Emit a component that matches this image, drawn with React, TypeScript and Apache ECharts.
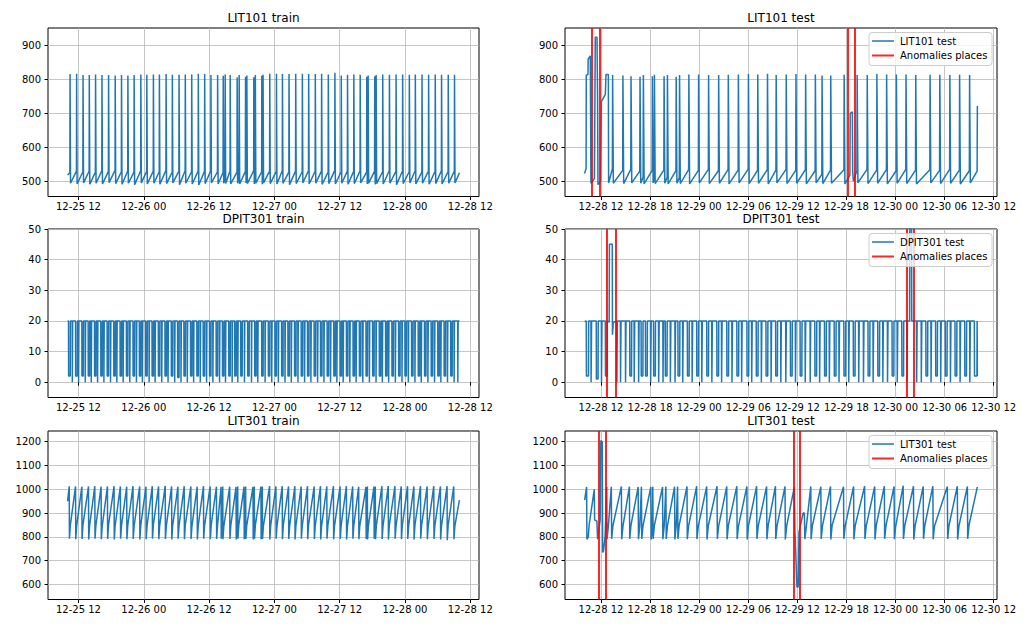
import React, { useEffect, useRef } from "react";
import * as echarts from "echarts";

// ---------- axis ticks (x values are hours since 12-25 00:00) ----------
const TRAIN_X_TICKS = [12, 24, 36, 48, 60, 72, 84];
const TEST_X_TICKS = [84, 90, 96, 102, 108, 114, 120, 126, 132];
const LIT101_Y_TICKS = [500, 600, 700, 800, 900];
const DPIT301_Y_TICKS = [0, 10, 20, 30, 40, 50];
const LIT301_Y_TICKS = [600, 700, 800, 900, 1000, 1100, 1200];

const TITLES = ["LIT101 train", "LIT101 test", "DPIT301 train", "DPIT301 test", "LIT301 train", "LIT301 test"];
const TEST_NAMES = ["LIT101 test", "DPIT301 test", "LIT301 test"];

// ---------- anomaly places (hours) ----------
const LIT101_ANOMALIES = [82.9, 83.79, 114.18, 115.07];
const DPIT301_ANOMALIES = [84.74, 85.76, 121.42, 122.28];
const LIT301_ANOMALIES = [83.75, 84.53, 107.55, 108.33];

// ---------- LIT101 train: [spike time, level before, peak, level after] ----------
const LIT101_TRAIN_START = [10.0, 518];
const LIT101_TRAIN_END = [82.0, 525];
const LIT101_TRAIN = [
  [10.42, 526, 816, 494], [11.63, 530, 817, 492], [12.81, 528, 813, 495], [13.96, 530, 813, 491],
  [15.11, 527, 815, 494], [16.29, 531, 813, 492], [17.5, 529, 813, 496], [18.72, 532, 812, 493],
  [19.88, 528, 813, 491], [21.05, 530, 812, 494], [22.2, 527, 813, 490], [23.43, 531, 815, 495],
  [24.53, 529, 814, 492], [25.74, 530, 815, 494], [26.84, 528, 815, 491], [28.07, 532, 816, 493],
  [29.22, 527, 814, 495], [30.45, 530, 814, 490], [31.6, 531, 815, 494], [32.78, 528, 815, 492],
  [33.99, 530, 817, 489], [35.16, 529, 816, 493], [36.31, 531, 813, 495], [37.54, 528, 813, 492],
  [38.57, 526, 811, 494], [38.93, 512, 815, 493], [39.85, 530, 813, 492], [41.13, 527, 807, 494],
  [41.5, 510, 813, 492], [42.67, 529, 808, 495], [42.91, 508, 812, 493], [44.19, 531, 807, 492],
  [44.47, 510, 813, 494], [45.66, 528, 811, 491], [45.89, 508, 814, 495], [47.12, 530, 817, 493],
  [48.35, 529, 817, 492], [49.45, 531, 816, 494], [50.66, 527, 816, 490], [51.89, 530, 817, 493],
  [53.11, 528, 817, 495], [54.27, 531, 816, 492], [55.49, 529, 816, 494], [56.65, 530, 817, 491],
  [57.88, 527, 815, 493], [59.09, 532, 820, 492], [60.26, 528, 812, 494], [61.41, 530, 814, 491],
  [62.57, 529, 815, 493], [63.74, 531, 814, 495], [64.95, 527, 808, 492], [65.2, 508, 812, 494],
  [66.41, 530, 810, 491], [66.67, 509, 813, 493], [67.88, 528, 815, 492], [69.11, 531, 814, 494],
  [70.33, 529, 815, 490], [71.54, 530, 815, 493], [72.77, 528, 814, 495], [73.87, 531, 815, 492],
  [75.1, 527, 815, 494], [76.31, 530, 814, 491], [77.53, 529, 815, 493], [78.69, 531, 814, 492],
  [79.92, 528, 814, 494], [81.07, 530, 814, 495],
];

// ---------- LIT101 test ----------
const LIT101_TEST_POINTS = [
  [82.0, 523], [82.18, 538], [82.2, 813], [82.41, 815], [82.43, 860], [82.69, 870], [82.77, 494],
  [83.2, 508], [83.3, 925], [83.51, 925], [83.58, 750], [83.63, 490], [83.95, 500], [84.05, 735],
  [84.53, 756], [84.61, 815], [84.9, 815], [84.93, 495],
  [114.42, 518], [114.46, 700], [114.72, 705], [114.76, 530], [114.85, 500],
  [129.97, 530], [130.0, 722],
];
const LIT101_TEST = [
  [85.39, 536, 813, 494], [86.65, 532, 812, 493], [87.64, 535, 810, 495], [88.74, 530, 808, 494],
  [89.15, 512, 813, 492], [90.25, 532, 810, 495], [90.5, 508, 814, 493], [91.68, 533, 810, 494],
  [92.09, 512, 813, 492], [93.16, 531, 808, 494], [93.57, 510, 813, 493], [94.71, 534, 815, 492],
  [95.9, 532, 815, 495], [97.12, 535, 813, 493], [98.35, 531, 813, 494], [99.53, 534, 814, 492],
  [100.76, 533, 815, 495], [101.99, 536, 816, 493], [103.13, 532, 815, 494], [104.32, 534, 817, 492],
  [105.38, 533, 813, 495], [106.61, 535, 815, 493], [107.8, 532, 816, 494], [108.98, 534, 815, 492],
  [110.17, 531, 815, 495], [110.99, 520, 812, 493], [112.05, 533, 812, 494], [113.69, 534, 814, 492],
  [115.28, 532, 813, 495], [116.51, 535, 813, 493], [117.69, 533, 816, 494], [118.88, 534, 815, 492],
  [120.07, 531, 815, 494], [121.25, 535, 815, 493], [122.44, 533, 813, 492], [124.19, 534, 814, 495],
  [125.38, 532, 814, 493], [126.61, 535, 813, 494], [127.8, 533, 814, 492], [129.02, 531, 813, 495],
];

// ---------- DPIT301 train: [dip time, dip level, dip duration] ----------
const DPIT301_TRAIN_START = [10.0, 20];
const DPIT301_TRAIN_END = [82.0, 20];
const DPIT301_TRAIN = [
  [10.17, 2, 0.3], [10.85, 0, 0.04], [11.46, 2, 0.3], [12.0, 0, 0.04], [12.62, 2, 0.25], [13.23, 0, 0.04],
  [13.78, 2, 0.25], [14.33, 0, 0.04], [14.94, 2, 0.25], [15.49, 0, 0.04], [16.1, 2, 0.25], [16.65, 0, 0.04],
  [17.26, 2, 0.25], [17.87, 0, 0.04], [18.48, 2, 0.25], [19.03, 0, 0.04], [19.64, 2, 0.25], [20.19, 0, 0.04],
  [20.8, 2, 0.25], [21.41, 0, 0.04], [22.02, 2, 0.25], [22.63, 0, 0.04], [23.18, 2, 0.25], [23.73, 0, 0.04],
  [24.35, 2, 0.25], [24.96, 0, 0.04], [25.51, 2, 0.25], [26.06, 0, 0.04], [26.67, 2, 0.25], [27.28, 0, 0.04],
  [27.89, 2, 0.25], [28.44, 0, 0.04], [29.05, 2, 0.25], [29.66, 0, 0.04], [30.21, 1.5, 0.25], [30.82, 0, 0.04],
  [31.37, 2, 0.25], [31.98, 0, 0.04], [32.59, 2, 0.25], [33.14, 0, 0.04], [33.75, 2, 0.25], [34.36, 0, 0.04],
  [34.91, 2, 0.25], [35.52, 0, 0.04], [36.07, 2, 0.25], [36.68, 0, 0.04], [37.29, 2, 0.25], [37.9, 0, 0.04],
  [38.45, 2, 0.25], [39.0, 0, 0.04], [39.61, 2, 0.25], [40.22, 0, 0.04], [40.71, 2, 0.25], [41.26, 0, 0.04],
  [41.81, 2, 0.25], [42.48, 0, 0.04], [43.09, 2, 0.25], [43.77, 0, 0.04], [44.38, 2, 0.25], [44.93, 0, 0.04],
  [45.66, 2, 0.25], [46.27, 0, 0.04], [46.88, 2, 0.25], [47.49, 0, 0.04], [48.1, 2, 0.25], [48.71, 0, 0.04],
  [49.32, 2, 0.25], [49.93, 0, 0.04], [50.48, 2, 0.25], [51.09, 0, 0.04], [51.7, 2, 0.25], [52.31, 0, 0.04],
  [52.92, 2, 0.25], [53.53, 0, 0.04], [54.08, 2, 0.25], [54.69, 0, 0.04], [55.3, 2, 0.25], [55.92, 0, 0.04],
  [56.47, 2, 0.25], [57.08, 0, 0.04], [57.69, 2, 0.25], [58.3, 0, 0.04], [58.91, 2, 0.25], [59.46, 0, 0.04],
  [60.07, 2, 0.25], [60.62, 0, 0.04], [61.23, 2, 0.25], [61.84, 0, 0.04], [62.45, 2, 0.25], [63.0, 0, 0.04],
  [63.61, 2, 0.25], [64.22, 0, 0.04], [64.83, 2, 0.25], [65.44, 0, 0.04], [66.05, 2, 0.25], [66.66, 0, 0.04],
  [67.27, 2, 0.25], [67.82, 0, 0.04], [68.43, 2, 0.25], [68.98, 0, 0.04], [69.59, 2, 0.25], [70.21, 0, 0.04],
  [70.82, 2, 0.25], [71.43, 0, 0.04], [71.98, 2, 0.25], [72.59, 0, 0.04], [73.2, 2, 0.25], [73.81, 0, 0.04],
  [74.42, 2, 0.25], [74.97, 0, 0.04], [75.58, 2, 0.25], [76.19, 0, 0.04], [76.8, 2, 0.25], [77.41, 0, 0.04],
  [78.02, 2, 0.25], [78.57, 0, 0.04], [79.18, 2, 0.25], [79.79, 0, 0.04], [80.4, 2, 0.25], [81.01, 0, 0.04],
  [81.69, 0, 0.04],
];

// ---------- DPIT301 test ----------
const DPIT301_TEST_POINTS = [
  [82.0, 19.8],
  [85.0, 19.6], [85.03, 45], [85.38, 45], [85.4, 15.5], [85.45, 15.5], [85.5, 19.5],
  [121.72, 20], [121.75, 55], [121.95, 55], [121.98, 20],
  [130.0, 2],
];
const DPIT301_TEST = [
  [82.2, 2, 0.25], [82.77, 0, 0.04], [83.42, 1, 0.2], [84.04, 0, 0.04], [84.53, 2, 0.2],
  [85.92, 0, 0.04], [86.37, 0, 0.04], [86.98, 0, 0.04], [87.51, 2, 0.2], [88.04, 0, 0.04], [88.58, 0, 0.04],
  [88.9, 2, 0.2], [89.43, 2, 0.2], [90.05, 0, 0.04], [90.42, 2, 0.2], [91.03, 0, 0.04], [91.56, 0, 0.04],
  [91.85, 2, 0.2], [92.46, 0, 0.04], [93.03, 0, 0.04], [93.4, 2, 0.2], [93.97, 0, 0.04], [94.55, 2, 0.2],
  [95.12, 0, 0.04], [95.69, 2, 0.2], [96.3, 0, 0.04], [96.92, 2, 0.2], [97.53, 0, 0.04], [98.15, 2, 0.2],
  [98.72, 0, 0.04], [99.37, 2, 0.2], [99.99, 0, 0.04], [100.6, 2, 0.2], [101.17, 0, 0.04], [101.83, 2, 0.2],
  [102.4, 0, 0.04], [102.97, 2, 0.2], [103.58, 0, 0.04], [104.16, 2, 0.2], [104.77, 0, 0.04], [105.34, 2, 0.2],
  [105.96, 0, 0.04], [106.57, 0, 0.04], [107.14, 2, 0.2], [107.75, 0, 0.04], [108.33, 2, 0.2], [108.94, 0, 0.04],
  [109.55, 0, 0.04], [110.13, 2, 0.2], [110.7, 0, 0.04], [111.31, 2, 0.2], [111.89, 0, 0.04], [112.5, 2, 0.2],
  [113.07, 0, 0.04], [113.68, 2, 0.2], [114.26, 0, 0.04], [114.83, 2, 0.2], [115.48, 0, 0.04], [116.06, 0, 0.04],
  [116.63, 2, 0.2], [117.24, 0, 0.04], [117.82, 2, 0.2], [118.43, 0, 0.04], [119.0, 0, 0.04], [119.57, 2, 0.2],
  [120.19, 0, 0.04], [120.76, 2, 0.2], [121.37, 0, 0.04], [122.56, 0, 0.04], [123.13, 0, 0.04], [123.7, 2, 0.2],
  [124.32, 0, 0.04], [124.89, 2, 0.2], [125.5, 0, 0.04], [126.07, 2, 0.2], [126.69, 0, 0.04], [127.26, 2, 0.2],
  [127.87, 0, 0.04], [128.45, 2, 0.2], [129.06, 0, 0.04], [129.63, 2, 0.3],
];

// ---------- LIT301 train: [drop time, peak, low after drop, knee level] ----------
const LIT301_TRAIN_START = [10.0, 950];
const LIT301_TRAIN_END = [82.0, 955];
const LIT301_TRAIN = [
  [10.3, 1013, 792, 848], [11.46, 1012, 790, 845], [12.62, 1011, 791, 850], [13.84, 1012, 789, 846],
  [15.0, 1013, 792, 848], [16.16, 1011, 790, 845], [17.32, 1012, 791, 850], [18.54, 1013, 789, 847],
  [19.7, 1012, 792, 846], [20.86, 1011, 790, 849], [22.02, 1013, 791, 845], [23.24, 1012, 789, 848],
  [24.4, 1011, 790, 846], [25.56, 1013, 792, 850], [26.72, 1012, 790, 847], [27.94, 1014, 791, 845],
  [29.11, 1012, 789, 848], [30.27, 1011, 792, 846], [31.43, 1013, 790, 849], [32.65, 1012, 791, 845],
  [33.81, 1011, 789, 848], [34.97, 1013, 792, 846], [36.19, 1012, 790, 850], [37.35, 1011, 791, 847],
  [38.2, 1010, 792, 850], [38.51, 1012, 790, 845], [39.79, 1011, 791, 848], [40.95, 1010, 789, 846],
  [41.26, 1012, 792, 849], [42.42, 1011, 790, 845], [42.72, 1012, 791, 848], [44.07, 1010, 789, 846],
  [44.31, 1012, 792, 850], [45.53, 1011, 790, 847], [45.78, 1012, 791, 845], [47.12, 1013, 789, 848],
  [48.28, 1012, 792, 846], [49.44, 1013, 790, 849], [50.6, 1012, 791, 845], [51.76, 1013, 789, 848],
  [52.92, 1012, 792, 846], [54.08, 1013, 790, 850], [55.31, 1012, 791, 847], [56.47, 1013, 789, 845],
  [57.63, 1012, 792, 848], [58.85, 1013, 790, 846], [60.07, 1012, 791, 849], [61.23, 1013, 789, 845],
  [62.39, 1012, 792, 848], [63.49, 1011, 790, 846], [64.83, 1010, 791, 850], [65.08, 1012, 789, 847],
  [66.3, 1011, 792, 845], [66.54, 1012, 790, 848], [67.76, 1013, 791, 846], [68.92, 1014, 789, 849],
  [70.15, 1013, 792, 845], [71.31, 1012, 790, 848], [72.47, 1013, 791, 846], [73.63, 1012, 789, 850],
  [74.85, 1013, 792, 847], [76.07, 1012, 790, 845], [77.29, 1013, 791, 848], [78.51, 1012, 789, 846],
  [79.73, 1013, 786, 849], [80.96, 1012, 790, 845],
];

// ---------- LIT301 test ----------
const LIT301_TEST_POINTS = [
  [82.0, 955], [82.24, 1010], [82.28, 790], [82.45, 800], [82.55, 850], [83.18, 1000], [83.22, 872],
  [83.5, 866], [83.58, 790], [83.62, 790], [83.9, 870], [83.98, 1205], [84.15, 1200], [84.2, 735],
  [84.3, 740], [84.5, 800],
  [107.63, 1010], [107.7, 830], [107.95, 590], [108.1, 590], [108.2, 820], [108.7, 900], [108.85, 900],
  [108.92, 790], [109.1, 845],
  [130.0, 1010],
];
const LIT301_TEST = [
  [84.7, 1010, 790, 845], [85.26, 1011, 791, 848], [86.49, 1012, 790, 846], [87.47, 1011, 792, 850],
  [88.54, 1010, 790, 845], [88.94, 1011, 791, 848], [90.09, 1010, 789, 846], [90.33, 1011, 792, 849],
  [91.52, 1010, 790, 845], [91.93, 1012, 791, 848], [92.99, 1011, 789, 846], [93.36, 1012, 792, 850],
  [94.51, 1012, 790, 847], [95.69, 1013, 791, 845], [96.92, 1012, 789, 848], [98.18, 1013, 792, 846],
  [99.37, 1012, 790, 849], [100.6, 1013, 791, 845], [101.83, 1012, 789, 848], [103.02, 1013, 792, 846],
  [104.24, 1012, 790, 850], [105.32, 1013, 791, 847], [106.49, 1012, 789, 845],
  [109.64, 1012, 790, 848], [110.87, 1011, 791, 846], [112.05, 1012, 789, 849], [113.64, 1011, 792, 845],
  [114.87, 1012, 790, 848], [116.22, 1013, 791, 846], [117.45, 1012, 789, 850], [118.63, 1013, 792, 847],
  [119.82, 1012, 790, 845], [120.93, 1015, 791, 848], [122.19, 1013, 789, 846], [123.38, 1012, 792, 849],
  [124.56, 1013, 790, 845], [126.33, 1012, 791, 848], [127.55, 1013, 789, 846], [128.78, 1012, 792, 850],
];

// ---------- builders ----------
type Pt = [number, number];
const byTime = (a: Pt, b: Pt) => a[0] - b[0];

function buildSpikes(cycles: number[][], extra: number[][]): Pt[] {
  const pts: Pt[] = extra.map((p) => [p[0], p[1]] as Pt);
  for (const [t, pre, peak, low] of cycles) {
    pts.push([t, pre], [t + 0.03, peak], [t + 0.08, peak - 1], [t + 0.12, low]);
  }
  return pts.sort(byTime);
}
function buildSaw(cycles: number[][], extra: number[][]): Pt[] {
  const pts: Pt[] = extra.map((p) => [p[0], p[1]] as Pt);
  for (const [t, peak, low, knee] of cycles) {
    pts.push([t, peak], [t + 0.04, low], [t + 0.2, knee]);
  }
  return pts.sort(byTime);
}
function buildDips(dips: number[][], extra: number[][], base: number): Pt[] {
  const pts: Pt[] = extra.map((p) => [p[0], p[1]] as Pt);
  for (const [t, level, dur] of dips) {
    pts.push([t, base], [t + 0.02, level], [t + 0.02 + dur, level], [t + 0.04 + dur, base]);
  }
  return pts.sort(byTime);
}

// ---------- layout / style ----------
const BLUE = "#1f77b4";
const RED = "rgba(255,0,0,0.85)";
const FONT = '"DejaVu Sans", sans-serif';
const COL_LEFT = [48, 565];
const COL_WIDTH = [431, 432];
const ROW_TOP = [28, 229, 431];
const ROW_HEIGHT = 168.5;

function fmtTime(v: number) {
  const r = Math.round(v);
  const d = 25 + Math.floor(r / 24);
  const h = r % 24;
  return `12-${d} ${String(h).padStart(2, "0")}`;
}
function fmtNum(v: number) {
  return String(Math.round(v));
}

export default function App() {
  const ref = useRef<HTMLDivElement>(null);
  useEffect(() => {
    const chart = echarts.init(ref.current!, null, { renderer: "svg" });

    const seriesData = [
      buildSpikes(LIT101_TRAIN, [LIT101_TRAIN_START, LIT101_TRAIN_END]),
      buildSpikes(LIT101_TEST, LIT101_TEST_POINTS),
      buildDips(DPIT301_TRAIN, [DPIT301_TRAIN_START, DPIT301_TRAIN_END], 20),
      buildDips(DPIT301_TEST, DPIT301_TEST_POINTS, 20),
      buildSaw(LIT301_TRAIN, [LIT301_TRAIN_START, LIT301_TRAIN_END]),
      buildSaw(LIT301_TEST, LIT301_TEST_POINTS),
    ];
    const yRanges = [[455, 952], [455, 952], [-5, 50], [-5, 50], [537, 1245], [537, 1245]];
    const yTicks = [LIT101_Y_TICKS, LIT101_Y_TICKS, DPIT301_Y_TICKS, DPIT301_Y_TICKS, LIT301_Y_TICKS, LIT301_Y_TICKS];
    const yStep = [100, 100, 10, 10, 100, 100];
    const anomalies = [null, LIT101_ANOMALIES, null, DPIT301_ANOMALIES, null, LIT301_ANOMALIES];

    const grids: any[] = [];
    const xAxes: any[] = [];
    const yAxes: any[] = [];
    const series: any[] = [];
    const graphic: any[] = [];

    for (let i = 0; i < 6; i++) {
      const row = Math.floor(i / 2);
      const col = i % 2;
      const left = COL_LEFT[col];
      const width = COL_WIDTH[col];
      const top = ROW_TOP[row];
      grids.push({
        left, top, width, height: ROW_HEIGHT,
        show: true, borderColor: "#000", borderWidth: 1, backgroundColor: "transparent",
      });
      const isTest = col === 1;
      const xt = isTest ? TEST_X_TICKS : TRAIN_X_TICKS;
      xAxes.push({
        type: "value", gridIndex: i,
        min: isTest ? 79.6 : 6.4, max: isTest ? 132.4 : 85.6,
        minInterval: isTest ? 6 : 12, maxInterval: isTest ? 6 : 12,
        axisLine: { show: false },
        axisTick: { show: true, length: 3.5, customValues: xt, lineStyle: { color: "#000", width: 1 } },
        axisLabel: {
          customValues: xt, formatter: fmtTime, margin: 5,
          color: "#000", fontSize: 10, fontFamily: FONT,
        },
        splitLine: { show: true, lineStyle: { color: "#b8b8b8", width: 0.8 } },
      });
      yAxes.push({
        type: "value", gridIndex: i,
        min: yRanges[i][0], max: yRanges[i][1],
        minInterval: yStep[i], maxInterval: yStep[i],
        axisLine: { show: false },
        axisTick: { show: true, length: 3.5, customValues: yTicks[i], lineStyle: { color: "#000", width: 1 } },
        axisLabel: {
          customValues: yTicks[i], formatter: fmtNum, margin: 7,
          color: "#000", fontSize: 10, fontFamily: FONT,
        },
        splitLine: { show: true, lineStyle: { color: "#b8b8b8", width: 0.8 } },
      });
      const s: any = {
        type: "line", name: TITLES[i], xAxisIndex: i, yAxisIndex: i,
        data: seriesData[i], showSymbol: false, symbol: "none", silent: true,
        lineStyle: { color: BLUE, width: 1.5 }, itemStyle: { color: BLUE },
        animation: false, z: 2,
      };
      if (anomalies[i]) {
        s.markLine = {
          silent: true, symbol: ["none", "none"], label: { show: false }, animation: false,
          lineStyle: { color: RED, width: 2, type: "solid" },
          emphasis: { disabled: true },
          data: (anomalies[i] as number[]).map((v) => ({ xAxis: v })),
        };
      }
      series.push(s);

      // title
      graphic.push({
        type: "text", x: left + width / 2, y: top - 10, silent: true,
        style: { text: TITLES[i], fill: "#000", font: `12px ${FONT}`, textAlign: "center", textVerticalAlign: "middle" },
      });

      // legend (test panels)
      if (isTest) {
        const bw = 123, bh = 33;
        const bx = left + width - 5 - bw;
        const by = top + 4.5;
        graphic.push({
          type: "rect", silent: true, z: 100,
          shape: { x: bx, y: by, width: bw, height: bh, r: 3 },
          style: { fill: "rgba(255,255,255,0.8)", stroke: "#cccccc", lineWidth: 1 },
        });
        const rowsY = [by + 8.5, by + 23];
        const labels = [TEST_NAMES[row], "Anomalies places"];
        const colors = [BLUE, RED];
        for (let k = 0; k < 2; k++) {
          graphic.push({
            type: "line", silent: true, z: 101,
            shape: { x1: bx + 3, y1: rowsY[k], x2: bx + 25, y2: rowsY[k] },
            style: { stroke: colors[k], lineWidth: k === 0 ? 1.5 : 2 },
          });
          graphic.push({
            type: "text", silent: true, z: 101, x: bx + 31, y: rowsY[k],
            style: { text: labels[k], fill: "#000", font: `10px ${FONT}`, textAlign: "left", textVerticalAlign: "middle" },
          });
        }
      }
    }

    chart.setOption({
      animation: false,
      backgroundColor: "#fff",
      grid: grids,
      xAxis: xAxes,
      yAxis: yAxes,
      series,
      graphic,
    });
    return () => chart.dispose();
  }, []);

  return (
    <div
      ref={ref}
      style={{ position: "fixed", left: 0, top: 0, width: 1026, height: 629, background: "#fff" }}
    />
  );
}
